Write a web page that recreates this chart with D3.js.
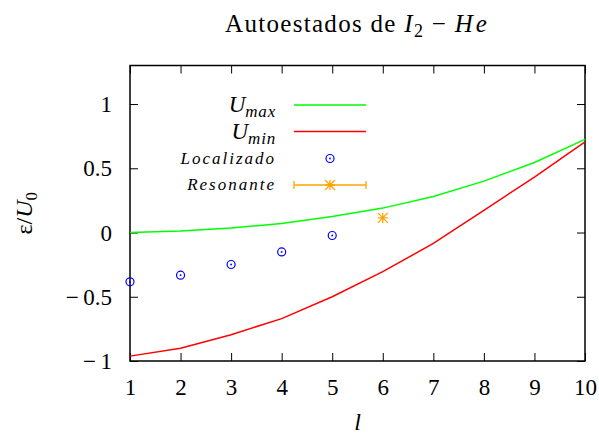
<!DOCTYPE html>
<html>
<head>
<meta charset="utf-8">
<script src="https://cdn.jsdelivr.net/npm/d3@7"></script>
<style>
    body { margin: 0; background: #fff; }
    svg { display: block; font-family: "Liberation Serif", "Times New Roman", serif; }
</style>
</head>
<body>
<svg id="chart" width="599" height="434"></svg>
<script>
// l values and series
var lValues = [1, 2, 3, 4, 5, 6, 7, 8, 9, 10];
var uMax = [0.0, 0.012, 0.036, 0.07, 0.125, 0.19, 0.28, 0.40, 0.545, 0.725];
var uMin = [-0.962, -0.90, -0.795, -0.67, -0.50, -0.305, -0.085, 0.173, 0.432, 0.705];
var localizadoL = [1, 2, 3, 4, 5];
var localizado = [-0.384, -0.332, -0.249, -0.151, -0.023];
var resonanteL = [6];
var resonante = [0.114];

var xTicks = [1, 2, 3, 4, 5, 6, 7, 8, 9, 10];
var yTicks = [-1, -0.5, 0, 0.5, 1];

var svg = d3.select('#chart');

// plot frame (window.top is read-only, so no "top" here)
var pLeft = 130, pRight = 585, pTop = 65.5, pBottom = 361;

var x = d3.scaleLinear().domain([1, 10]).range([pLeft, pRight]);
var y = d3.scaleLinear().domain([-1, 1.3]).range([pBottom, pTop]);

// wider minus, like the TeX one
var fmt = function(d) {
    return d < 0 ? '\u2212\u2009' + Math.abs(d) : String(d);
};

// axes, ticks pointing inwards
var gx = svg.append('g').attr('transform', 'translate(0,' + pBottom + ')')
    .call(d3.axisBottom(x).tickValues(xTicks).tickSize(-8).tickFormat(fmt));
var gy = svg.append('g').attr('transform', 'translate(' + pLeft + ',0)')
    .call(d3.axisLeft(y).tickValues(yTicks).tickSize(-8).tickFormat(fmt));
var gxTop = svg.append('g').attr('transform', 'translate(0,' + pTop + ')')
    .call(d3.axisTop(x).tickValues(xTicks).tickSize(-8).tickFormat(''));
var gyRight = svg.append('g').attr('transform', 'translate(' + pRight + ',0)')
    .call(d3.axisRight(y).tickValues(yTicks).tickSize(-8).tickFormat(''));

[gx, gy, gxTop, gyRight].forEach(function(g) {
    g.select('.domain').remove();
    g.selectAll('line').attr('stroke', '#000').attr('stroke-width', 1);
});

gx.selectAll('text')
    .attr('y', 34).attr('dy', 0)
    .attr('font-size', 23).attr('fill', '#000')
    .attr('font-family', '"Liberation Serif", serif');
gy.selectAll('text')
    .attr('x', -18).attr('dy', '0.33em')
    .attr('font-size', 23).attr('fill', '#000')
    .attr('font-family', '"Liberation Serif", serif');

// frame
svg.append('rect')
    .attr('x', pLeft).attr('y', pTop)
    .attr('width', pRight - pLeft).attr('height', pBottom - pTop)
    .attr('fill', 'none').attr('stroke', '#000').attr('stroke-width', 1.5);

var plot = svg.append('g');

var line = d3.line()
    .x(function(d) { return x(d[0]); })
    .y(function(d) { return y(d[1]); });

plot.append('path')
    .datum(d3.zip(lValues, uMax))
    .attr('d', line)
    .attr('fill', 'none').attr('stroke', '#00ff00').attr('stroke-width', 1.5);

plot.append('path')
    .datum(d3.zip(lValues, uMin))
    .attr('d', line)
    .attr('fill', 'none').attr('stroke', '#ff0000').attr('stroke-width', 1.5);

function drawCircle(g, cx, cy) {
    g.append('circle').attr('cx', cx).attr('cy', cy).attr('r', 4)
        .attr('fill', 'none').attr('stroke', '#0000ff').attr('stroke-width', 1.2);
    g.append('circle').attr('cx', cx).attr('cy', cy).attr('r', 0.9)
        .attr('fill', '#0000ff');
}

function drawStar(g, cx, cy) {
    var s = 5;
    g.append('path')
        .attr('d', 'M' + (cx - s) + ',' + cy + 'H' + (cx + s) +
            'M' + cx + ',' + (cy - s) + 'V' + (cy + s) +
            'M' + (cx - s) + ',' + (cy - s) + 'L' + (cx + s) + ',' + (cy + s) +
            'M' + (cx - s) + ',' + (cy + s) + 'L' + (cx + s) + ',' + (cy - s))
        .attr('stroke', '#ffa500').attr('stroke-width', 1.3).attr('fill', 'none');
}

localizado.forEach(function(v, i) {
    drawCircle(plot, x(localizadoL[i]), y(v));
});
resonante.forEach(function(v, i) {
    drawStar(plot, x(resonanteL[i]), y(v));
});

// legend
var legend = svg.append('g');
var lx = 276, sx0 = 294, sx1 = 366, sxc = 330;
var rows = [105, 131.5, 158.5, 185];

function mathLabel(yy, main, sub) {
    var t = legend.append('text')
        .attr('x', lx).attr('y', yy + 7)
        .attr('text-anchor', 'end')
        .attr('font-size', 23).attr('font-style', 'italic');
    t.append('tspan').text(main);
    t.append('tspan').attr('font-size', 17).attr('dy', 5).attr('letter-spacing', 0.8).text(sub);
}

mathLabel(rows[0], 'U', 'max');
legend.append('line').attr('x1', sx0).attr('x2', sx1).attr('y1', rows[0]).attr('y2', rows[0])
    .attr('stroke', '#00ff00').attr('stroke-width', 1.5);

mathLabel(rows[1], 'U', 'min');
legend.append('line').attr('x1', sx0).attr('x2', sx1).attr('y1', rows[1]).attr('y2', rows[1])
    .attr('stroke', '#ff0000').attr('stroke-width', 1.5);

legend.append('text')
    .attr('x', lx).attr('y', rows[2] + 5)
    .attr('text-anchor', 'end')
    .attr('font-size', 17).attr('font-style', 'italic').attr('letter-spacing', 2)
    .text('Localizado');
drawCircle(legend, sxc, rows[2]);

legend.append('text')
    .attr('x', lx).attr('y', rows[3] + 5)
    .attr('text-anchor', 'end')
    .attr('font-size', 17).attr('font-style', 'italic').attr('letter-spacing', 2)
    .text('Resonante');
legend.append('path')
    .attr('d', 'M' + sx0 + ',' + (rows[3] - 4) + 'V' + (rows[3] + 4) +
        'M' + sx0 + ',' + rows[3] + 'H' + sx1 +
        'M' + sx1 + ',' + (rows[3] - 4) + 'V' + (rows[3] + 4))
    .attr('stroke', '#ffa500').attr('stroke-width', 1.3).attr('fill', 'none');
drawStar(legend, sxc, rows[3]);

// title
var title = svg.append('text')
    .attr('x', (pLeft + pRight) / 2).attr('y', 32)
    .attr('text-anchor', 'middle').attr('font-size', 25).attr('letter-spacing', 1.3);
title.append('tspan').text('Autoestados de ');
title.append('tspan').attr('font-style', 'italic').text('I');
title.append('tspan').attr('font-size', 18).attr('dy', 5).text('2');
title.append('tspan').attr('dy', -5).text(' \u2212 ');
title.append('tspan').attr('font-style', 'italic').attr('letter-spacing', 3).text('He');

// axis labels
svg.append('text')
    .attr('x', (pLeft + pRight) / 2).attr('y', 430)
    .attr('text-anchor', 'middle').attr('font-size', 24).attr('font-style', 'italic')
    .text('l');

var yl = svg.append('text')
    .attr('transform', 'translate(32,' + ((pTop + pBottom) / 2) + ') rotate(-90)')
    .attr('text-anchor', 'middle').attr('font-size', 24);
yl.append('tspan').text('ε/');
yl.append('tspan').attr('font-style', 'italic').text('U');
yl.append('tspan').attr('font-size', 17).attr('dy', 5).text('0');
</script>
</body>
</html>
